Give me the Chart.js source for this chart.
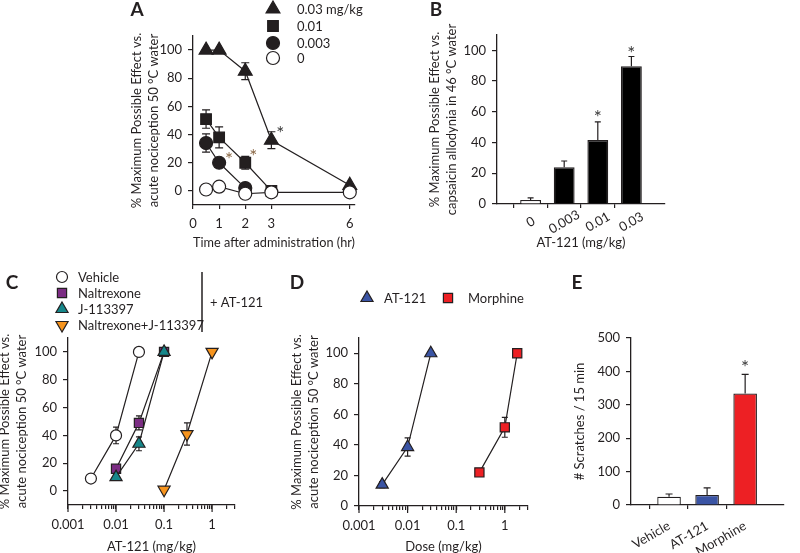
<!DOCTYPE html>
<html>
<head>
<meta charset="utf-8">
<script src="https://cdn.jsdelivr.net/npm/chart.js@4.4.0/dist/chart.umd.min.js"></script>
<style>
  html, body { margin: 0; padding: 0; background: #fff; }
  #fig { position: relative; width: 800px; height: 553px; overflow: hidden; background: #fff; }
  #fig canvas { position: absolute; }
</style>
</head>
<body>
<div id="fig">
  <canvas id="chartA" width="380" height="265" style="left:0px;top:0px"></canvas>
  <canvas id="chartB" width="300" height="265" style="left:380px;top:0px"></canvas>
  <canvas id="chartC" width="286" height="288" style="left:-6px;top:265px"></canvas>
  <canvas id="chartD" width="275" height="288" style="left:280px;top:265px"></canvas>
  <canvas id="chartE" width="245" height="288" style="left:555px;top:265px"></canvas>
</div>
<script>
// ---- data ----
// A: time course, % MPE in 50 °C water
const timeHr = [0.5, 1, 2, 3, 6];
const timeTicks = [0, 1, 2, 3, 6];
const mpe003 = [100, 100, 85, 36, 4];
const sem003 = [0, 0, 6, 6, 0];
const mpe001 = [51, 38, 20, 0];
const sem001 = [6.5, 7.5, 4.5, 0];
const mpe0003 = [34, 20, 2];
const sem0003 = [6.5, 0, 0];
const mpe0 = [1, 3, -2, -1, -1];
const mpeTicks = [0, 20, 40, 60, 80, 100];

// B: capsaicin allodynia
const doseLabelsB = ['0', '0.003', '0.01', '0.03'];
const allodyniaMpe = [2.6, 24, 41.6, 89.7];
const allodyniaSem = [1.4, 4, 11.8, 6.3];

// C: antagonist shifts (x = AT-121 mg/kg)
const vehDose = [0.003, 0.01, 0.03];
const vehMpe = [9, 40, 100];
const vehSem = [0, 6, 0];
const nalDose = [0.01, 0.03, 0.1];
const nalMpe = [16, 49, 100];
const nalSem = [0, 5, 0];
const jDose = [0.01, 0.03, 0.1];
const jMpe = [10, 34, 100];
const jSem = [0, 5, 0];
const njDose = [0.1, 0.3, 1];
const njMpe = [1, 41, 100];
const njSem = [0, 8, 0];

// D: dose response AT-121 vs morphine
const at121Dose = [0.003, 0.01, 0.03];
const at121Mpe = [14, 38.6, 100];
const at121Sem = [2, 6, 0];
const morDose = [0.3, 1, 1.8];
const morMpe = [22, 51.5, 100];
const morSem = [0, 6.5, 0];
const decadeTicks = [0.001, 0.01, 0.1, 1];

// E: scratching
const itchGroups = ['Vehicle', 'AT-121', 'Morphine'];
const scratches = [25, 30, 334];
const scratchSem = [8, 21, 57];
const scratchTicks = [0, 100, 200, 300, 400, 500];

// ---- style ----
const INK = '#231f20';
const FONT = 'Lato, "Open Sans", "Noto Sans", sans-serif';
const tickFont = { family: FONT, size: 13 };
const titleFont = { family: FONT, size: 13, lineHeight: 1.27 };
const PURPLE = '#7b2c83', TEAL = '#16878a', ORANGE = '#f7941d', BLUE = '#3a54a4', RED = '#ed2024';

function pts(xs, ys) { return ys.map((y, i) => ({ x: xs[i], y })); }

function logTickValues(maxV) {
  const out = [];
  decadeTicks.forEach(d => {
    for (let m = 1; m <= 9; m++) {
      const v = +(d * m).toPrecision(3);
      if (v <= maxV) out.push(v);
    }
  });
  return out;
}

function yScale(min, max, ticks, width, title) {
  return {
    type: 'linear', min, max,
    afterBuildTicks: s => { s.ticks = ticks.map(v => ({ value: v })); },
    afterFit: s => { s.width = width; },
    grid: { drawOnChartArea: false, color: INK, lineWidth: 1.2, tickLength: 5 },
    border: { color: INK, width: 1.3 },
    ticks: { color: INK, font: tickFont, padding: 6 },
    title: { display: true, text: title, color: INK, font: titleFont, padding: 0 }
  };
}

function xTitle(text) {
  return { display: true, text, color: INK, font: titleFont, padding: { top: 0, bottom: -3 } };
}

const yTitleMpe = ['% Maximum Possible Effect vs.', 'acute nociception 50 \u00B0C water'];

function lineSet(data, style, color, r, extra) {
  return Object.assign({
    data, showLine: true, borderColor: INK, borderWidth: 1.2,
    pointStyle: style, pointRadius: r, pointHoverRadius: r,
    pointBackgroundColor: color, pointBorderColor: INK, pointBorderWidth: 1.2,
    tension: 0, fill: false, clip: false
  }, extra);
}

// ---- decorations (letters, legends, asterisks) per canvas ----
const decor = {
  chartA: {
    origin: [0, 0],
    letters: [['A', 137, 10]],
    legend: { x: 273, tx: 297, items: [
      { y: 9, style: 'triangle', r: 8, fill: INK, label: '0.03 mg/kg' },
      { y: 26, style: 'rect', r: 7.5, fill: INK, label: '0.01' },
      { y: 43, style: 'circle', r: 6.5, fill: INK, label: '0.003' },
      { y: 58, style: 'circle', r: 6.5, fill: '#fff', label: '0' }
    ] },
    stars: [
      { ds: 3, i: 3, dx: 9, dy: -11, color: '#3a3a3a' },
      { ds: 1, i: 1, dx: 10, dy: -8, color: '#8c6a48' },
      { ds: 2, i: 2, dx: 8, dy: -11, color: '#8c6a48' }
    ]
  },
  chartB: {
    origin: [380, 0],
    letters: [['B', 436, 10]],
    catLabels: doseLabelsB,
    stars: [
      { ds: 0, i: 3, dx: 0, dy: -9, fromErr: true, color: '#3a3a3a' },
      { ds: 0, i: 4, dx: 0, dy: -8, fromErr: true, color: '#3a3a3a' }
    ]
  },
  chartC: {
    origin: [-6, 265],
    letters: [['C', 12, 283]],
    legend: { x: 62, tx: 78, items: [
      { y: 277, style: 'circle', r: 5.5, fill: '#fff', label: 'Vehicle' },
      { y: 293, style: 'rect', r: 6.5, fill: PURPLE, label: 'Naltrexone' },
      { y: 309, style: 'triangle', r: 7, fill: TEAL, label: 'J-113397' },
      { y: 325, style: 'triangle', r: 7, rot: 180, fill: ORANGE, label: 'Naltrexone+J-113397' }
    ] },
    lines: [[202, 272, 202, 332]],
    texts: [['+ AT-121', 210, 303]],
    majors: true
  },
  chartD: {
    origin: [280, 265],
    letters: [['D', 297, 283]],
    legend: { x: 0, tx: 0, items: [
      { x: 367, tx: 384, y: 298, style: 'triangle', r: 7, fill: BLUE, label: 'AT-121' },
      { x: 448, tx: 468, y: 298, style: 'rect', r: 6.5, fill: RED, label: 'Morphine' }
    ] },
    majors: true
  },
  chartE: {
    origin: [555, 265],
    letters: [['E', 577, 283]],
    stars: [{ ds: 0, i: 3, dx: 0, dy: -11, fromErr: true, color: '#3a3a3a' }]
  }
};

const panelExtras = {
  id: 'panelExtras',
  beforeDatasetsDraw(chart) {
    const ctx = chart.ctx, ys = chart.scales.y;
    chart.data.datasets.forEach((ds, di) => {
      if (!ds.sem) return;
      const meta = chart.getDatasetMeta(di);
      ctx.save();
      ctx.strokeStyle = INK;
      ctx.lineWidth = 1.2;
      meta.data.forEach((el, i) => {
        const e = ds.sem[i];
        const raw = ds.data[i];
        const v = (raw && typeof raw === 'object') ? raw.y : raw;
        if (!e || v == null) return;
        const x = el.x;
        const yTop = ys.getPixelForValue(v + e);
        const yBot = ys.getPixelForValue(ds.semUpOnly ? v : v - e);
        const cw = ds.capWidth || 6;
        ctx.beginPath();
        ctx.moveTo(x, yTop); ctx.lineTo(x, yBot);
        ctx.moveTo(x - cw / 2, yTop); ctx.lineTo(x + cw / 2, yTop);
        if (!ds.semUpOnly) { ctx.moveTo(x - cw / 2, yBot); ctx.lineTo(x + cw / 2, yBot); }
        ctx.stroke();
      });
      ctx.restore();
    });
  },
  afterDraw(chart) {
    const d = decor[chart.canvas.id];
    if (!d) return;
    const ctx = chart.ctx;
    const [ox, oy] = d.origin;
    const xs = chart.scales.x, ys = chart.scales.y;
    ctx.save();
    ctx.fillStyle = INK;
    ctx.strokeStyle = INK;
    ctx.textBaseline = 'middle';

    (d.letters || []).forEach(([t, x, y]) => {
      ctx.font = 'bold 19px ' + FONT;
      ctx.textAlign = 'center';
      ctx.fillText(t, x - ox, y - oy);
    });

    if (d.legend) {
      d.legend.items.forEach(it => {
        const mx = (it.x || d.legend.x) - ox, my = it.y - oy;
        ctx.save();
        ctx.fillStyle = it.fill;
        ctx.strokeStyle = INK;
        ctx.lineWidth = 1.2;
        Chart.helpers.drawPoint(ctx, { pointStyle: it.style, radius: it.r, rotation: it.rot || 0, borderWidth: 1.2 }, mx, my);
        ctx.restore();
        ctx.font = '13px ' + FONT;
        ctx.textAlign = 'left';
        ctx.fillText(it.label, (it.tx || d.legend.tx) - ox, my + 1);
      });
    }

    (d.lines || []).forEach(([x1, y1, x2, y2]) => {
      ctx.lineWidth = 1.5;
      ctx.beginPath();
      ctx.moveTo(x1 - ox, y1 - oy); ctx.lineTo(x2 - ox, y2 - oy);
      ctx.stroke();
    });

    (d.texts || []).forEach(([t, x, y]) => {
      ctx.font = '13px ' + FONT;
      ctx.textAlign = 'left';
      ctx.fillText(t, x - ox, y - oy);
    });

    // centred, rotated category labels (panel B)
    if (d.catLabels) {
      ctx.font = '13px ' + FONT;
      ctx.textAlign = 'center';
      d.catLabels.forEach((t, i) => {
        const x = xs.getPixelForValue(i + 1);
        ctx.save();
        ctx.translate(x, xs.top + 18);
        ctx.rotate(-Math.PI / 6);
        ctx.fillText(t, 0, 0);
        ctx.restore();
      });
    }

    // longer decade ticks on log axes
    if (d.majors) {
      ctx.lineWidth = 1.2;
      decadeTicks.forEach(v => {
        const x = xs.getPixelForValue(v);
        ctx.beginPath();
        ctx.moveTo(x, xs.top); ctx.lineTo(x, xs.top + 7);
        ctx.stroke();
      });
    }

    // significance asterisks, centred on the given offset
    (d.stars || []).forEach(s => {
      const ds = chart.data.datasets[s.ds];
      const el = chart.getDatasetMeta(s.ds).data[s.i];
      const raw = ds.data[s.i];
      const v = (raw && typeof raw === 'object') ? raw.y : raw;
      const y = s.fromErr ? ys.getPixelForValue(v + ds.sem[s.i]) : el.y;
      ctx.font = '19px ' + FONT;
      ctx.textAlign = 'center';
      ctx.textBaseline = 'alphabetic';
      ctx.fillStyle = s.color;
      ctx.fillText('*', el.x + s.dx, y + s.dy + 11);
    });
    ctx.restore();
  }
};

Chart.register(panelExtras);

const baseOptions = {
  responsive: false,
  animation: false,
  events: [],
  plugins: { legend: { display: false }, tooltip: { enabled: false } }
};

// ---- A ----
new Chart(document.getElementById('chartA'), {
  type: 'scatter',
  data: {
    datasets: [
      lineSet(pts(timeHr, mpe0), 'circle', '#fff', 6.5),
      lineSet(pts(timeHr, mpe0003), 'circle', INK, 6.5, { sem: sem0003, capWidth: 8 }),
      lineSet(pts(timeHr, mpe001), 'rect', INK, 7.5, { sem: sem001, capWidth: 8 }),
      lineSet(pts(timeHr, mpe003), 'triangle', INK, 8, { sem: sem003, capWidth: 8 })
    ]
  },
  options: Object.assign({}, baseOptions, {
    layout: { padding: { left: 129, right: 25, top: 36, bottom: 17 } },
    scales: {
      x: {
        type: 'linear', min: 0, max: 6.2,
        afterBuildTicks: s => { s.ticks = timeTicks.map(v => ({ value: v })); },
        afterFit: s => { s.height = 43; },
        grid: { drawOnChartArea: false, color: INK, lineWidth: 1.2, tickLength: 4 },
        border: { color: INK, width: 1.3 },
        ticks: { color: INK, font: tickFont, padding: 7 },
        title: xTitle('Time after administration (hr)')
      },
      y: yScale(-10, 110, mpeTicks, 64, yTitleMpe)
    }
  })
});

// ---- B ----
const bLabels = [''].concat(doseLabelsB, ['']);
new Chart(document.getElementById('chartB'), {
  type: 'bar',
  data: {
    labels: bLabels,
    datasets: [{
      data: [null].concat(allodyniaMpe, [null]),
      sem: [0].concat(allodyniaSem, [0]),
      semUpOnly: true, capWidth: 6,
      backgroundColor: ['#fff', '#fff', '#000', '#000', '#000', '#fff'],
      borderColor: INK, borderWidth: 1.3,
      categoryPercentage: 1, barPercentage: 0.62
    }]
  },
  options: Object.assign({}, baseOptions, {
    layout: { padding: { left: 47, right: 15, top: 35, bottom: 17 } },
    scales: {
      x: {
        type: 'category', offset: false,
        afterFit: s => { s.height = 44; },
        grid: { drawOnChartArea: false, lineWidth: 1.2, tickLength: 4,
          tickColor: c => (bLabels[c.index] ? INK : 'rgba(0,0,0,0)') },
        border: { color: INK, width: 1.3 },
        ticks: { display: false },
        title: xTitle('AT-121 (mg/kg)')
      },
      y: yScale(0, 110, mpeTicks, 70, ['% Maximum Possible Effect vs.', 'capsaicin allodynia in 46 \u00B0C water'])
    }
  })
});

// ---- log axis helper ----
function logX(title, height) {
  return {
    type: 'logarithmic', min: 0.001, max: 3,
    afterBuildTicks: s => { s.ticks = logTickValues(3).map(v => ({ value: v })); },
    afterFit: s => { s.height = height; },
    grid: { drawOnChartArea: false, color: INK, lineWidth: 1.2, tickLength: 4 },
    border: { color: INK, width: 1.3 },
    ticks: { color: INK, font: tickFont, padding: 8, autoSkip: false, maxRotation: 0,
      callback: v => (decadeTicks.includes(v) ? String(v) : '') },
    title: xTitle(title)
  };
}

// ---- C ----
new Chart(document.getElementById('chartC'), {
  type: 'scatter',
  data: {
    datasets: [
      lineSet(pts(jDose, jMpe), 'triangle', TEAL, 7, { sem: jSem }),
      lineSet(pts(nalDose, nalMpe), 'rect', PURPLE, 6.5, { sem: nalSem }),
      lineSet(pts(vehDose, vehMpe), 'circle', '#fff', 5.5, { sem: vehSem }),
      lineSet(pts(njDose, njMpe), 'triangle', ORANGE, 7, { sem: njSem, pointRotation: 180 })
    ]
  },
  options: Object.assign({}, baseOptions, {
    layout: { padding: { left: 3, right: 45, top: 73, bottom: 1 } },
    scales: {
      x: logX('AT-121 (mg/kg)', 47),
      y: yScale(-10, 110, mpeTicks, 71, yTitleMpe)
    }
  })
});

// ---- D ----
new Chart(document.getElementById('chartD'), {
  type: 'scatter',
  data: {
    datasets: [
      lineSet(pts(at121Dose, at121Mpe), 'triangle', BLUE, 7, { sem: at121Sem }),
      lineSet(pts(morDose, morMpe), 'rect', RED, 6.5, { sem: morSem })
    ]
  },
  options: Object.assign({}, baseOptions, {
    layout: { padding: { left: 9, right: 27, top: 73, bottom: 1 } },
    scales: {
      x: logX('Dose (mg/kg)', 46),
      y: yScale(0, 110, mpeTicks, 70, yTitleMpe)
    }
  })
});

// ---- E ----
const eLabels = [''].concat(itchGroups, ['']);
new Chart(document.getElementById('chartE'), {
  type: 'bar',
  data: {
    labels: eLabels,
    datasets: [{
      data: [null].concat(scratches, [null]),
      sem: [0].concat(scratchSem, [0]),
      semUpOnly: true, capWidth: 7,
      backgroundColor: ['#fff', '#fff', BLUE, RED, '#fff'],
      borderColor: INK, borderWidth: 1.3,
      categoryPercentage: 1, barPercentage: 0.62
    }]
  },
  options: Object.assign({}, baseOptions, {
    layout: { padding: { left: 17, right: 1, top: 73, bottom: 0 } },
    scales: {
      x: {
        type: 'category', offset: false,
        afterFit: s => { s.height = 48; },
        grid: { drawOnChartArea: false, lineWidth: 1.2, tickLength: 4,
          tickColor: c => (eLabels[c.index] ? INK : 'rgba(0,0,0,0)') },
        border: { color: INK, width: 1.3 },
        ticks: { color: INK, font: tickFont, padding: 9, autoSkip: false, minRotation: 30, maxRotation: 30 }
      },
      y: yScale(0, 500, scratchTicks, 59, '# Scratches / 15 min')
    }
  })
});
</script>
</body>
</html>
